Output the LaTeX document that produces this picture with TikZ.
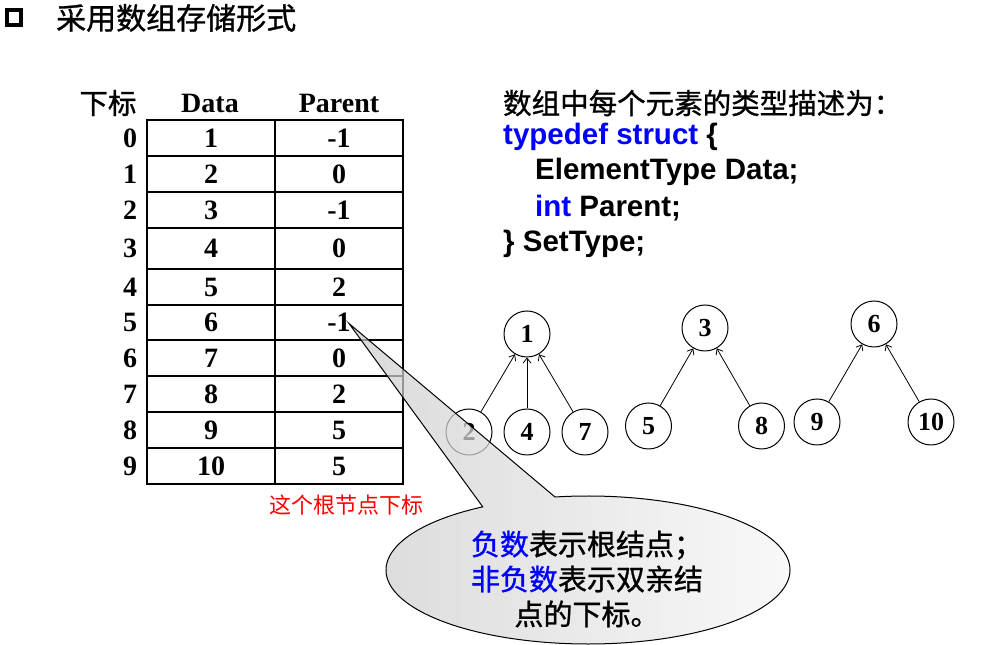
\documentclass[tikz,border=0pt]{standalone}
\usepackage{fontspec}
\setmainfont{Liberation Serif}
\newfontfamily\cjk[FakeBold=1]{Noto Sans CJK SC}
\newfontfamily\cjklight{Noto Sans CJK SC}
\newfontfamily\codefont{Liberation Sans}
\usepackage{tikz}
\usetikzlibrary{arrows.meta}
\usetikzlibrary{calc}

\begin{document}
\begin{tikzpicture}[x=1pt,y=1pt]
\tikzstyle{num} = [font=\bfseries\fontsize{28}{28}\selectfont, inner sep=0pt]
\tikzstyle{vertex} = [draw, circle, line width=1pt, minimum size=46pt, inner sep=0pt, font=\bfseries\fontsize{26}{26}\selectfont]
\tikzstyle{every child node} = [vertex]
\tikzstyle{edge from parent} = [draw, line width=0.8pt, {Straight Barb[length=5pt,width=8pt]}-]
\tikzstyle{codeline} = [anchor=west, inner sep=0pt, font=\codefont\bfseries\fontsize{29.5}{29.5}\selectfont]
\tikzstyle{callout} = [draw, line width=1pt, left color=gray!40, right color=gray!5, fill opacity=0.72]
\useasboundingbox (0,0) rectangle (991,645);

% title
\draw[line width=4pt] (7,620) rectangle (21,635);
\node[anchor=west, inner sep=0pt, font=\cjk\fontsize{30}{30}\selectfont] (title) at (56,627) {采用数组存储形式};

% table
\node[font=\cjk\fontsize{28.5}{28.5}\selectfont] (h0) at (108,542) {下标};
\node[num] (h1) at (210,542) {Data};
\node[num] (h2) at (339,542) {Parent};
\draw[line width=1.5pt] (147,525) rectangle (403,161);
\draw[line width=1.5pt] (275,525) -- (275,161);
\foreach \y in {489,453,417,376,340,305,269,233,197}
    \draw[line width=1.5pt] (147,\y) -- (403,\y);
\foreach \i/\d/\p/\y in {0/1/-1/507, 1/2/0/471, 2/3/-1/435, 3/4/0/396.5, 4/5/2/358,
                          5/6/-1/322.5, 6/7/0/287, 7/8/2/251, 8/9/5/215, 9/10/5/179}{
    \node[num] (x\i) at (130,\y) {\i};
    \node[num] (d\i) at (211,\y) {\d};
    \node[num] (p\i) at (339,\y) {\p};
}
\node[text=red, font=\cjklight\fontsize{22}{22}\selectfont] (note) at (346,140) {这个根节点下标};

% type description
\node[codeline, font=\cjk\fontsize{28.5}{28.5}\selectfont] (c1) at (503,542) {数组中每个元素的类型描述为：};
\node[codeline] (c2) at (503,508) {\textcolor{blue}{typedef struct} \{};
\node[codeline] (c3) at (535,473) {ElementType Data;};
\node[codeline] (c4) at (535,437) {\textcolor{blue}{int} Parent;};
\node[codeline] (c5) at (503,401) {\} SetType;};

% the three trees
\tikzstyle{level 1} = [sibling distance = 58pt, level distance = 98pt]
\node[vertex] (r1) at (527,311) {1}
    child{node(n2){2}}
    child{node(n4){4}}
    child{node(n7){7}};
\tikzstyle{level 1} = [sibling distance = 113pt, level distance = 98pt]
\node[vertex] (r3) at (705,317) {3}
    child{node(n5){5}}
    child{node(n8){8}};
\tikzstyle{level 1} = [sibling distance = 114pt, level distance = 98pt]
\node[vertex] (r6) at (874,321) {6}
    child{node(n9){9}}
    child{node(n10){10}};

% callout
\coordinate (c) at (588,75);
\coordinate (tip) at ($(p5.center)+(10,-1)$);
\path[callout] ($(c)+(99.4:202 and 74)$) -- (tip) -- ($(c)+(121.4:202 and 74)$)
    arc[start angle=121.4, end angle=459.4, x radius=202, y radius=74] -- cycle;
\node[align=center, font=\cjk\fontsize{29}{35}\selectfont] (bubble) at (587,66)
    {\textcolor{blue}{负数}表示根结点；\\\textcolor{blue}{非负数}表示双亲结\\点的下标。};
\end{tikzpicture}
\end{document}
